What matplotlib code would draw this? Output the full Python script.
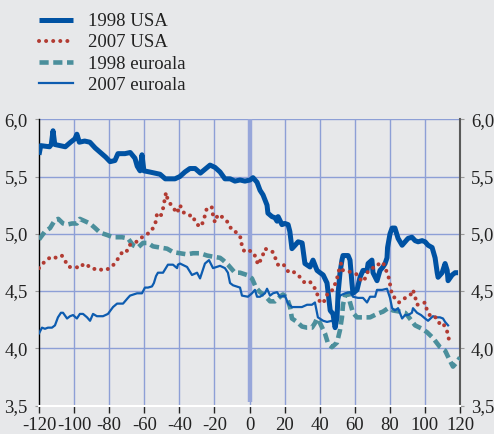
import matplotlib
matplotlib.use("Agg")
import matplotlib.pyplot as plt

# ---------------- data ----------------
usa98_x = [-120, -119, -114, -113, -112, -111, -105, -102, -99.5, -98.4, -97, -94, -91, -88, -85, -82,
           -79.5, -76.7, -75, -71, -68, -65.3, -64, -62.4, -61.3, -60.2, -57, -51, -48, -42.5, -39.7,
           -36.8, -34, -31, -28, -22.5, -19.7, -16.8, -14, -11, -8.3, -5.4, -2.6, 0.3, 2, 4.3, 6, 7.7,
           10, 10.5, 12.8, 14.5, 15.7, 16.3, 18.5, 20.2, 22, 23, 24.2, 26, 27.7, 30, 31.6, 34.5, 36.2,
           38.5, 40.2, 42, 44.2, 46, 47.6, 48.8, 49.9, 50.5, 51.6, 52.7, 53.3, 56.2, 57.3, 58.4, 59,
           61.3, 63, 64.7, 67, 67.6, 69.8, 70.4, 72.7, 74.4, 76.1, 77.3, 78.4, 78.7, 80.1, 81.3, 82.9,
           84.7, 87, 88.7, 90.4, 92.6, 94.4, 96.1, 98.4, 100.1, 101.8, 104.1, 105.8, 107, 107.5, 109.8,
           111.5, 112.7, 113.2, 115.5, 117.2, 118.9]
usa98_y = [5.69, 5.77, 5.76, 5.78, 5.90, 5.78, 5.76, 5.80, 5.83, 5.87, 5.80, 5.81, 5.80, 5.75, 5.71, 5.67,
           5.63, 5.64, 5.70, 5.70, 5.71, 5.66, 5.59, 5.55, 5.69, 5.55, 5.54, 5.52, 5.48, 5.48, 5.50,
           5.54, 5.57, 5.57, 5.53, 5.60, 5.58, 5.54, 5.48, 5.48, 5.46, 5.47, 5.46, 5.47, 5.49, 5.45, 5.38,
           5.34, 5.25, 5.18, 5.15, 5.14, 5.11, 5.15, 5.08, 5.09, 5.08, 5.02, 4.87, 4.90, 4.93, 4.92, 4.74,
           4.71, 4.77, 4.68, 4.66, 4.64, 4.57, 4.33, 4.30, 4.18, 4.27, 4.48, 4.66, 4.77, 4.81, 4.81, 4.77,
           4.57, 4.48, 4.51, 4.62, 4.68, 4.68, 4.74, 4.77, 4.66, 4.59, 4.68, 4.71, 4.74, 4.79, 4.88, 5.00,
           5.05, 5.05, 4.96, 4.90, 4.93, 4.96, 4.97, 4.94, 4.93, 4.94, 4.93, 4.90, 4.88, 4.79, 4.66, 4.62,
           4.66, 4.74, 4.68, 4.59, 4.64, 4.66, 4.66]

usa07_x = [-120, -116.6, -113, -110, -107, -104.6, -103, -99, -96.7, -94.4, -92, -89, -87, -83.5, -81,
           -78, -75.5, -73, -70.4, -68.7, -65.3, -59.6, -56.7, -55, -53.3, -52.7, -50.5, -49.3, -48.2,
           -47.6, -46.5, -43.6, -41.3, -39.6, -37.9, -35, -32.2, -31, -28.2, -26.5, -25.4, -24.2, -21.4,
           -20.8, -19.7, -18.5, -17.4, -15.1, -12.3, -10, -7.1, -4.8, -4.3, -2.6, 0.3, 2, 3.7, 4.8, 7.1,
           8.8, 10.5, 13.4, 16.2, 19.1, 21.4, 23.1, 24.8, 27.7, 29.9, 31.6, 34.5, 36.2, 38.5, 39, 41.3,
           43, 44.8, 47.6, 49.9, 51, 52.2, 53.3, 56.7, 59, 61.9, 64.1, 65.9, 67, 69.8, 72.7, 73.8, 76.1,
           78.4, 79.5, 81.3, 82.9, 85.2, 87.5, 90.4, 92.6, 93.2, 94.4, 95.5, 98.4, 100.1, 101.2, 103.5,
           106.3, 108.6, 110.3, 112.6, 113.8]
usa07_y = [4.70, 4.76, 4.80, 4.79, 4.81, 4.75, 4.71, 4.71, 4.70, 4.74, 4.72, 4.69, 4.70, 4.68, 4.69,
           4.72, 4.77, 4.83, 4.83, 4.90, 4.92, 4.99, 5.01, 5.05, 5.11, 5.18, 5.16, 5.22, 5.31,
           5.36, 5.29, 5.23, 5.18, 5.25, 5.19, 5.16, 5.16, 5.10, 5.06, 5.10, 5.16, 5.23, 5.23,
           5.16, 5.10, 5.15, 5.17, 5.14, 5.10, 5.03, 5.01, 4.96, 4.88, 4.84, 4.85, 4.84, 4.79, 4.73, 4.79,
           4.87, 4.86, 4.84, 4.73, 4.74, 4.68, 4.66, 4.67, 4.64, 4.60, 4.57, 4.58, 4.55, 4.49, 4.43, 4.39,
           4.42, 4.49, 4.51, 4.61, 4.68, 4.74, 4.68, 4.67, 4.66, 4.64, 4.58, 4.61, 4.66, 4.70, 4.71, 4.74, 4.75,
           4.66, 4.61, 4.46, 4.44, 4.40, 4.43, 4.45, 4.48, 4.51, 4.45, 4.38, 4.39, 4.40, 4.33, 4.27,
           4.27, 4.21, 4.22, 4.15, 4.07]

eur98_x = [-120, -116.6, -113.7, -110.9, -109, -106.3, -104, -101.2, -98.4, -96.7, -93.8, -91, -88,
           -85.2, -81.3, -77.8, -72.7, -69.3, -66.4, -63.6, -60.7, -57.9, -55, -51, -47, -43.6, -39.6,
           -35.6, -32.2, -28.2, -24.2, -20.8, -16.8, -15.1, -12.3, -8.3, -5.4, -1.4, 1.4, 3.7, 6, 8.8,
           11.7, 14.5, 17.4, 19.1, 21.4, 23.1, 24.2, 27.1, 29.9, 32.8, 35.6, 37.3, 38.5, 40.2, 43, 44.8,
           47, 49.9, 51.6, 52.7, 53.3, 54.5, 56.2, 57.3, 59, 61.3, 64.1, 68.7, 72.7, 76.1, 79, 81.8, 85.8,
           88.7, 90.4, 94.4, 98.4, 101.2, 104.6, 108.6, 111.5, 114.3, 116, 118.3, 120]
eur98_y = [4.95, 5.02, 5.05, 5.12, 5.13, 5.09, 5.08, 5.09, 5.09, 5.13, 5.11, 5.09, 5.05,
           5.01, 4.99, 4.97, 4.97, 4.96, 4.90, 4.88, 4.92, 4.92, 4.89, 4.88, 4.87, 4.84, 4.83,
           4.82, 4.83, 4.83, 4.81, 4.80, 4.79, 4.77, 4.73, 4.66, 4.66, 4.64, 4.61, 4.53, 4.49, 4.46,
           4.41, 4.41, 4.45, 4.47, 4.44, 4.36, 4.26, 4.23, 4.19, 4.18, 4.18, 4.22, 4.26, 4.22, 4.13, 4.04,
           4.01, 4.05, 4.16, 4.27, 4.38, 4.46, 4.48, 4.40, 4.31, 4.27, 4.27, 4.27, 4.30, 4.32, 4.35, 4.33, 4.32,
           4.31, 4.28, 4.20, 4.17, 4.14, 4.09, 4.01, 3.98, 3.89, 3.84, 3.88, 3.92]

eur07_x = [-120, -118.3, -116.6, -114.9, -112.6, -110.9, -109.2, -107.5, -106.3, -104, -102.3, -100.6,
           -98.4, -96.7, -94.9, -92.6, -90.9, -89.2, -87, -85.2, -83.5, -80.7, -77.8, -75.5, -72.1, -69.3,
           -68.1, -64.1, -61.3, -59.6, -57.9, -55.6, -54.5, -53.3, -52.2, -49.3, -46.5, -43.6, -41.3,
           -40.8, -39.6, -35.6, -32.8, -29.9, -28.2, -25.4, -23.1, -20.8, -16.8, -14, -12.3, -11.1, -9.4,
           -5.4, -4.3, -0.9, 1.4, 3.1, 4.3, 6, 8.8, 10, 11.7, 13.4, 15.7, 17.4, 20.2, 22, 24.2, 27.1, 29.9,
           32.8, 35.6, 37.3, 39, 42, 44.2, 47, 47.6, 49.9, 51.6, 54.5, 57.3, 59, 61.9, 64.7, 67, 68.7, 71.6,
           72.7, 75.6, 78.4, 80.1, 81.3, 82.9, 84.7, 87, 88.7, 90.4, 92.6, 93.2, 95.5, 97.8, 100.1, 101.8,
           104.6, 106.9, 108.6, 110.3, 111.5, 113.2]
eur07_y = [4.13, 4.18, 4.17, 4.18, 4.18, 4.20, 4.27, 4.31, 4.31, 4.26, 4.28, 4.29,
           4.26, 4.30, 4.30, 4.27, 4.24, 4.30, 4.28, 4.28, 4.28, 4.30, 4.36, 4.39, 4.39, 4.44,
           4.46, 4.48, 4.48, 4.53, 4.53, 4.54, 4.57, 4.63, 4.66, 4.66, 4.73, 4.73, 4.70,
           4.73, 4.74, 4.71, 4.64, 4.66, 4.61, 4.74, 4.77, 4.70, 4.72, 4.70, 4.66, 4.57, 4.55,
           4.53, 4.46, 4.45, 4.48, 4.51, 4.45, 4.45, 4.48, 4.52, 4.46, 4.48, 4.49, 4.45, 4.46, 4.39, 4.36, 4.36, 4.36,
           4.38, 4.38, 4.40, 4.27, 4.24, 4.23, 4.24, 4.23, 4.36, 4.46, 4.48, 4.49, 4.45, 4.44, 4.44, 4.40, 4.45, 4.45,
           4.51, 4.51, 4.52, 4.44, 4.35, 4.33, 4.35, 4.26, 4.29, 4.29, 4.31, 4.35, 4.31, 4.29, 4.26, 4.24,
           4.28, 4.27, 4.27, 4.26, 4.23, 4.20]

series_labels = ["1998 USA", "2007 USA", "1998 euroala", "2007 euroala"]
x_ticks = [-120, -100, -80, -60, -40, -20, 0, 20, 40, 60, 80, 100, 120]
x_tick_labels = ["-120", "-100", "-80", "-60", "-40", "-20", "0", "20", "40", "60", "80", "100", "120"]
y_ticks = [3.5, 4.0, 4.5, 5.0, 5.5, 6.0]
y_tick_labels = ["3,5", "4,0", "4,5", "5,0", "5,5", "6,0"]

# ---------------- style ----------------
BG = "#e7e8ea"
GRID = "#8d9fd6"
C_USA98 = "#0052a3"
C_USA07 = "#b23b32"
C_EUR98 = "#4b8f9c"
C_EUR07 = "#0d5cb0"

plt.rcParams['font.family'] = ['Liberation Serif', 'DejaVu Serif']

fig = plt.figure(figsize=(4.94, 4.34), dpi=100, facecolor=BG)
ax = fig.add_axes([39 / 494, 28.5 / 434, 421 / 494, 286.2 / 434])
ax.set_facecolor(BG)

ax.set_xlim(-120, 120)
ax.set_ylim(3.5, 6.0)

# grid
for xv in x_ticks[1:-1]:
    ax.axvline(xv, color=GRID, lw=1.0, zorder=0)
for yv in y_ticks[1:]:
    ax.axhline(yv, color=GRID, lw=1.0, zorder=0)
# zero line
ax.plot([0, 0], [3.53, 6.0], color="#97a6da", lw=3.2, zorder=1, solid_capstyle='butt')

l3, = ax.plot(eur98_x, eur98_y, color=C_EUR98, lw=3.3, linestyle=(0, (2.0, 1.0)),
              dash_capstyle='butt', zorder=3)
l4, = ax.plot(eur07_x, eur07_y, color=C_EUR07, lw=1.6, zorder=4, solid_joinstyle='round')
l1, = ax.plot(usa98_x, usa98_y, color=C_USA98, lw=3.6, zorder=5, solid_joinstyle='round',
              solid_capstyle='butt')
l2, = ax.plot(usa07_x, usa07_y, color=C_USA07, lw=2.9, linestyle=(0, (0.01, 1.75)),
              dash_capstyle='round', zorder=6)

# spines
ax.spines['top'].set_visible(False)
ax.spines['left'].set_color('black')
ax.spines['left'].set_linewidth(1.0)
ax.spines['right'].set_color('#5a5a5a')
ax.spines['right'].set_linewidth(1.5)
ax.spines['bottom'].set_color('white')
ax.spines['bottom'].set_linewidth(1.5)

ax.set_xticks(x_ticks)
ax.set_xticklabels(x_tick_labels)
ax.set_yticks(y_ticks)
ax.set_yticklabels(y_tick_labels)
ax.tick_params(axis='x', direction='out', length=5, width=1.0, color='#222222',
               labelsize=13.5, pad=3, labelcolor='#222222')
ax.tick_params(axis='y', direction='out', length=3, width=0.8, color='#9a9a9a',
               labelsize=13.5, pad=5, labelcolor='#222222', left=True, right=True,
               labelleft=True, labelright=True)

# legend
handles = [l1, l2, l3, l4]
leg = fig.legend(handles, series_labels, loc='upper left', bbox_to_anchor=(39 / 494, 1 - 13 / 434),
                 frameon=False, fontsize=13.5, handlelength=1.8, handletextpad=0.8,
                 labelspacing=0.22, borderpad=0, borderaxespad=0)
for t in leg.get_texts():
    t.set_color('#222222')

fig.savefig("out.png", dpi=100, facecolor=BG)
